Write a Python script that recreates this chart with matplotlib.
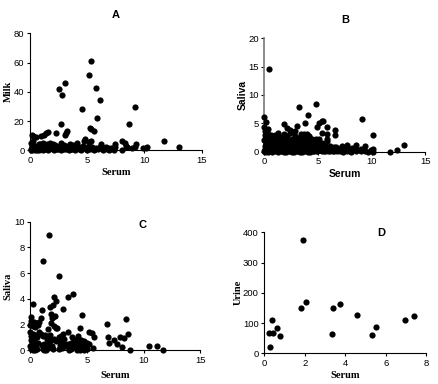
import matplotlib
matplotlib.use('Agg')
import matplotlib.pyplot as plt

# A: serum vs milk
a_x = [5.33, 5.13, 5.74, 6.15, 3.06, 2.56, 2.83, 4.54, 5.83, 9.15, 8.62, 2.74, 5.2, 5.35, 5.55,
       3.25, 3.15, 3.1, 2.3, 1.55, 1.4, 1.2, 1.0, 0.15, 0.3, 0.5, 11.7, 13.0, 10.2, 9.9, 10.1,
       9.25, 9.2, 8.95, 8.45, 8.3, 8.05, 8.0, 8.4, 7.45, 7.4, 7.1, 6.85, 6.6, 6.2, 6.1, 5.8, 5.5,
       5.3, 5.15, 5.0, 4.8, 4.7, 4.5, 4.3, 4.1, 4.0, 3.8, 3.6, 3.5, 3.3, 3.1, 2.95, 2.75, 2.6,
       2.4, 2.2, 2.0, 1.9, 1.75, 1.6, 1.45, 1.3, 1.15, 1.05, 0.9, 0.75, 0.6, 0.45, 0.3, 0.2, 0.1,
       0.05, 0.15, 0.25, 0.35, 0.5, 0.7, 0.85, 1.0, 1.2, 1.35, 1.5, 1.7, 1.85, 2.05, 2.25, 2.45,
       2.65, 2.85, 3.05, 3.25, 3.45, 3.7, 3.9, 4.2, 4.4, 4.6, 4.85, 5.05, 5.25, 5.45, 5.65, 5.9,
       6.05, 6.3, 6.5, 6.75, 7.0, 7.25, 0.1, 0.2, 0.4, 0.6, 0.8, 1.1, 1.6, 2.1, 2.7, 3.4, 3.95,
       4.45, 4.95, 5.6, 6.4, 6.9, 7.3, 0.3, 0.55, 0.95, 1.25, 1.8, 2.3, 2.9, 3.2, 3.6, 4.25]
a_y = [61.3, 51.3, 42.6, 34.4, 46.0, 41.7, 38.0, 28.3, 22.3, 29.9, 18.0, 17.8, 15.0, 14.3, 13.0,
       13.5, 11.8, 10.2, 12.0, 12.2, 11.5, 10.5, 10.0, 10.2, 9.6, 8.8, 6.3, 2.0, 2.0, 1.8, 1.5,
       4.0, 2.5, 1.8, 2.2, 5.0, 6.5, 0.5, 2.6, 4.2, 2.2, 1.3, 1.8, 2.0, 4.0, 2.5, 1.5, 0.8,
       6.5, 6.0, 2.5, 8.0, 6.2, 2.0, 1.0, 4.8, 2.5, 3.8, 1.2, 4.0, 2.8, 1.0, 3.5, 4.8, 1.8,
       1.0, 3.6, 4.5, 1.6, 4.8, 2.8, 4.5, 1.0, 4.8, 2.4, 1.2, 4.0, 1.4, 3.2, 6.2, 3.8, 4.8,
       1.0, 2.0, 1.0, 2.8, 0.8, 2.4, 4.0, 0.8, 3.0, 2.0, 0.6, 1.2, 3.2, 1.0, 1.8, 0.8,
       3.0, 1.0, 2.0, 0.8, 2.0, 1.0, 3.2, 2.4, 0.9, 3.0, 1.2, 2.0, 1.2, 2.4, 0.6, 1.0,
       1.8, 2.2, 1.5, 1.2, 1.0, 1.6, 0.3, 0.2, 0.4, 0.3, 0.2, 0.4, 0.3, 0.2, 0.3, 0.4, 0.2,
       0.3, 0.4, 0.2, 0.4, 0.3, 0.2, 2.2, 2.0, 2.6, 2.2, 2.4, 2.0, 2.2, 2.0, 2.4, 2.2]

# B: serum vs saliva, dense near the origin
b_x = [0.4, 4.8, 3.2, 4.1, 0.0, 9.1, 3.75, 1.85, 3.0, 0.2, 0.0, 0.3, 0.1, 5.5, 5.35, 5.1, 5.85,
       4.9, 6.6, 6.6, 5.85, 5.4, 5.85, 5.8, 10.1, 9.35, 13.0, 12.35, 11.7, 10.1, 9.95, 10.15,
       9.7, 9.0, 8.5, 8.45, 8.05, 7.7, 7.65, 7.2, 7.0, 6.7, 6.4, 6.1, 2.15, 2.4, 2.7, 2.9, 3.4,
       3.7, 3.95, 4.2, 4.4, 1.3, 1.0, 0.6, 0.3, 0.45, 0.15, 0.05, 0.55, 0.8, 1.05, 1.35, 1.6,
       1.85, 2.1, 2.35, 2.6, 2.85, 3.1, 3.35, 3.6, 3.85, 4.1, 4.35, 4.6, 4.85, 5.1, 5.35, 5.6,
       0.0, 0.15, 0.3, 0.5, 0.7, 0.95, 1.2, 1.45, 1.7, 1.95, 2.2, 2.45, 2.7, 2.95, 3.2, 3.45,
       3.7, 3.95, 4.2, 4.45, 4.7, 4.95, 5.2, 5.45, 5.7, 5.95, 6.2, 6.5, 6.8, 7.1, 7.4, 7.8,
       8.2, 8.6, 9.0, 9.4, 0.05, 0.2, 0.4, 0.6, 0.85, 1.1, 1.35, 1.6, 1.85, 2.1, 2.35, 2.6, 2.85,
       3.1, 3.35, 3.6, 3.85, 4.1, 4.35, 4.6, 4.85, 5.1, 5.35, 5.6, 0.1, 0.25, 0.45, 0.65, 0.9,
       1.15, 1.4, 1.65, 1.9, 2.15, 2.4, 2.65, 2.9, 3.15, 3.4, 3.65, 3.9, 4.15, 4.4, 4.65, 4.9,
       5.15, 5.4, 5.65, 5.9, 6.15, 6.45, 6.75, 7.05, 7.35, 7.7, 8.1, 8.5, 0.0, 0.1, 0.3, 0.5,
       0.75, 1.0, 1.25, 1.55, 1.8, 2.05, 2.3, 2.55, 2.8, 3.05, 3.3, 3.55, 3.8, 4.05, 4.3, 4.55,
       0.2, 0.5, 0.8, 1.1, 1.4, 1.7, 2.0, 2.3, 2.6, 2.9, 3.2, 3.5, 3.8, 4.1, 4.4, 4.7, 5.0, 5.3,
       0.1, 0.35, 0.65, 0.9, 1.2, 1.5, 1.8, 2.5, 2.75, 3.0, 3.3, 3.55, 4.0, 4.25, 4.55, 4.8, 5.2, 5.5,
       0.25, 0.6, 1.0, 1.3, 1.6, 2.2, 2.45, 2.8, 3.1, 3.4, 3.7, 4.0, 4.3, 4.6, 4.9, 5.25, 5.55, 5.8,
       0.15, 0.4, 0.75, 1.15, 1.45, 1.9, 2.2, 2.55, 2.95, 3.25, 3.6, 3.95, 4.2, 4.5, 5.05, 5.7, 6.0, 6.3]
b_y = [14.6, 8.5, 7.8, 6.5, 6.2, 5.7, 5.0, 4.9, 4.6, 5.2, 4.4, 4.0, 3.6, 5.5, 5.4, 5.0, 4.3,
       4.4, 3.8, 2.9, 3.2, 3.3, 2.3, 1.8, 2.9, 1.0, 1.1, 0.3, 0.0, 0.5, 0.3, 0.0,
       0.0, 0.2, 1.1, 0.6, 0.4, 1.2, 0.3, 1.0, 0.5, 0.9, 0.2, 1.0, 4.2, 3.9, 3.5, 3.7, 3.2,
       3.2, 3.1, 2.7, 2.3, 3.3, 3.0, 3.0, 3.2, 2.7, 2.6, 2.9, 2.5, 2.6, 2.4, 2.5, 2.6,
       3.2, 2.8, 3.3, 2.2, 2.7, 2.4, 2.0, 2.5, 2.2, 1.8, 1.5, 1.6, 2.2, 2.3, 1.6, 1.4,
       2.0, 1.7, 1.9, 1.6, 1.3, 1.5, 1.2, 1.6, 1.3, 1.0, 1.4, 1.6, 1.2, 1.7, 1.3, 1.5,
       1.0, 1.2, 0.9, 1.3, 1.0, 0.8, 1.2, 0.9, 1.1, 0.7, 0.6, 0.8, 0.5, 0.6, 0.4, 0.5,
       0.7, 0.3, 0.5, 0.2, 1.0, 0.9, 0.7, 1.0, 0.8, 0.9, 0.7, 0.9, 0.6, 0.8, 0.7, 0.9, 0.6,
       0.8, 0.6, 0.7, 0.5, 0.7, 0.6, 0.4, 0.6, 0.5, 0.4, 0.6, 0.4, 0.3, 0.5, 0.3, 0.4,
       0.3, 0.4, 0.2, 0.4, 0.3, 0.2, 0.4, 0.3, 0.2, 0.3, 0.2, 0.3, 0.2, 0.3, 0.1, 0.2,
       0.3, 0.1, 0.2, 0.1, 0.2, 0.1, 0.2, 0.1, 0.0, 0.1, 0.0, 0.1, 0.1, 0.0, 0.0, 0.1,
       0.0, 0.1, 0.0, 0.1, 0.0, 0.0, 0.1, 0.0, 0.0, 0.1, 0.0, 0.0, 0.1, 0.0, 0.0, 0.1,
       1.4, 1.2, 1.9, 1.7, 2.0, 1.9, 1.5, 1.8, 1.3, 2.0, 2.1, 1.2, 1.6, 1.2, 1.0, 1.3, 1.4, 1.0,
       2.3, 2.4, 2.0, 2.1, 2.0, 2.2, 2.3, 1.9, 1.6, 1.5, 1.0, 1.0, 1.3, 0.9, 0.7, 1.0, 0.8, 0.7,
       0.6, 0.5, 0.5, 0.3, 0.4, 0.3, 0.5, 0.4, 0.3, 0.4, 0.3, 0.4, 0.3, 0.3, 0.2, 0.3, 0.2, 0.3,
       1.1, 0.9, 1.2, 1.9, 1.8, 1.5, 0.8, 1.1, 2.5, 0.4, 0.9, 0.6, 0.5, 0.7, 0.5, 0.4, 0.5, 0.3]

# C: serum vs saliva
c_x = [1.68, 1.15, 2.56, 3.76, 3.29, 2.06, 2.24, 0.24, 1.0, 2.91, 1.74, 1.97, 4.53, 6.76, 8.41,
       8.59, 6.88, 6.94, 7.41, 7.65, 7.94, 8.24, 8.09, 8.79, 10.44, 11.15, 11.7, 5.18, 5.41, 5.59,
       5.53, 4.41, 1.85, 2.0, 2.2, 1.9, 0.95, 0.8, 0.55, 0.3, 0.1, 0.0, 0.05, 0.2, 0.4, 0.65,
       1.8, 2.05, 2.3, 1.55, 1.7, 2.4, 3.3, 2.85, 2.7, 2.5, 3.0, 3.7, 4.2, 4.1, 3.9, 4.5,
       4.7, 5.0, 5.2, 0.0, 0.1, 0.2, 0.3, 0.45, 0.6, 0.75, 0.95, 1.1, 1.3, 1.45, 1.65, 1.85,
       2.1, 2.3, 2.55, 2.75, 2.95, 3.15, 3.35, 3.6, 3.8, 4.05, 4.25, 4.45, 4.7, 4.9, 0.05, 0.15,
       0.25, 0.35, 0.5, 0.7, 1.05, 1.2, 1.4, 1.6, 1.9, 2.6, 2.8, 3.05, 3.4, 3.55, 4.0, 4.6, 0.0,
       0.1, 0.2, 0.3, 0.4, 0.55, 1.1, 1.25, 1.35, 2.0, 2.5, 3.4, 4.15, 4.35, 4.75, 5.0]
c_y = [8.96, 6.97, 5.8, 4.4, 4.12, 4.12, 3.86, 3.58, 3.1, 3.24, 3.4, 3.52, 2.72, 2.05, 2.46,
       1.3, 1.06, 0.54, 0.83, 0.49, 1.0, 0.98, 0.28, 0.0, 0.34, 0.36, 0.0, 1.45, 1.32, 1.04,
       0.15, 1.71, 2.8, 2.6, 2.7, 2.55, 2.5, 2.2, 2.1, 2.2, 2.6, 2.0, 2.3, 1.9, 1.8, 2.0,
       2.1, 1.9, 1.7, 1.65, 1.2, 1.75, 1.4, 1.3, 1.1, 1.0, 0.9, 1.0, 1.1, 0.9, 0.8, 0.8,
       0.7, 0.6, 0.5, 1.4, 1.1, 1.3, 0.9, 1.2, 1.0, 1.4, 1.3, 1.1, 1.2, 0.9, 0.6, 0.8,
       0.9, 0.7, 0.8, 0.6, 0.5, 0.4, 0.5, 0.6, 0.5, 0.4, 0.6, 0.3, 0.4, 0.2, 0.8, 0.6,
       0.5, 0.7, 0.4, 0.6, 0.4, 0.5, 0.3, 0.2, 0.3, 0.4, 0.2, 0.3, 0.2, 0.1, 0.2, 0.1, 0.3,
       0.1, 0.0, 0.2, 0.05, 0.1, 0.1, 0.0, 0.05, 0.1, 0.1, 0.0, 0.0, 0.05, 0.0, 0.1]

# D: serum vs urine
d_x = [1.93, 2.07, 1.79, 3.39, 3.72, 4.59, 3.34, 5.32, 5.5, 6.96, 7.37, 0.38, 0.63, 0.21, 0.43, 0.77, 0.28]
d_y = [373, 171, 151, 150, 163, 127, 64, 61, 86, 111, 123, 109, 82, 66, 67, 57, 22]

W, H = 439, 384
SANS = 'Liberation Sans'
SERIF = 'Liberation Serif'


def panel(box, xs, ys, xmax, ymax, xticks, yticks, ylabel, title, title_xy, font, ylab_x, xlab_y):
    # box is left, right, bottom, top in image pixels
    left, right, bottom, top = box
    ax = fig.add_axes([left / W, 1 - bottom / H, (right - left) / W, (bottom - top) / H])
    ax.scatter(xs, ys, s=20, c='black', linewidths=0, clip_on=False, zorder=3)
    ax.set_xlim(0, xmax)
    ax.set_ylim(0, ymax)
    ax.set_xticks(xticks)
    ax.set_yticks(yticks)
    ax.spines['top'].set_visible(False)
    ax.spines['right'].set_visible(False)
    ax.tick_params(length=2.5, width=0.8, pad=1.5, labelsize=6.8)
    for lab in ax.get_xticklabels() + ax.get_yticklabels():
        lab.set_family(SANS)
    # label positions, in image pixels
    fig.text((left + right) / 2 / W, 1 - xlab_y / H, 'Serum', family=font, weight='bold',
             fontsize=7.5, ha='center', va='center')
    fig.text(ylab_x / W, 1 - (top + bottom) / 2 / H, ylabel, family=font, weight='bold',
             fontsize=7.5, ha='center', va='center', rotation=90)
    fig.text(title_xy[0] / W, 1 - title_xy[1] / H, title, family=SANS, weight='bold',
             fontsize=8, ha='center', va='center')
    return ax


fig = plt.figure(figsize=(W / 100, H / 100), dpi=100)

panel((30, 201.7, 150.3, 33.3), a_x, a_y, 15, 80, [0, 5, 10, 15], [0, 20, 40, 60, 80],
      'Milk', 'A', (116, 15), SERIF, 8, 173)
ax_b = panel((264.3, 425.3, 151.7, 38.3), b_x, b_y, 15, 20, [0, 5, 10, 15], [0, 5, 10, 15, 20],
             'Saliva', 'B', (345, 20), SANS, 243, 174)
ax_b.spines['left'].set_color('#777777')
ax_b.spines['left'].set_linewidth(1.2)
panel((30.3, 200.3, 350.3, 221.7), c_x, c_y, 15, 10, [0, 5, 10, 15], [0, 2, 4, 6, 8, 10],
      'Saliva', 'C', (143, 225), SERIF, 8, 375)
panel((264.3, 426.3, 353.3, 232.3), d_x, d_y, 8, 400, [0, 2, 4, 6, 8], [0, 100, 200, 300, 400],
      'Urine', 'D', (381, 233), SERIF, 238, 376)

fig.savefig('out.png', dpi=100)
